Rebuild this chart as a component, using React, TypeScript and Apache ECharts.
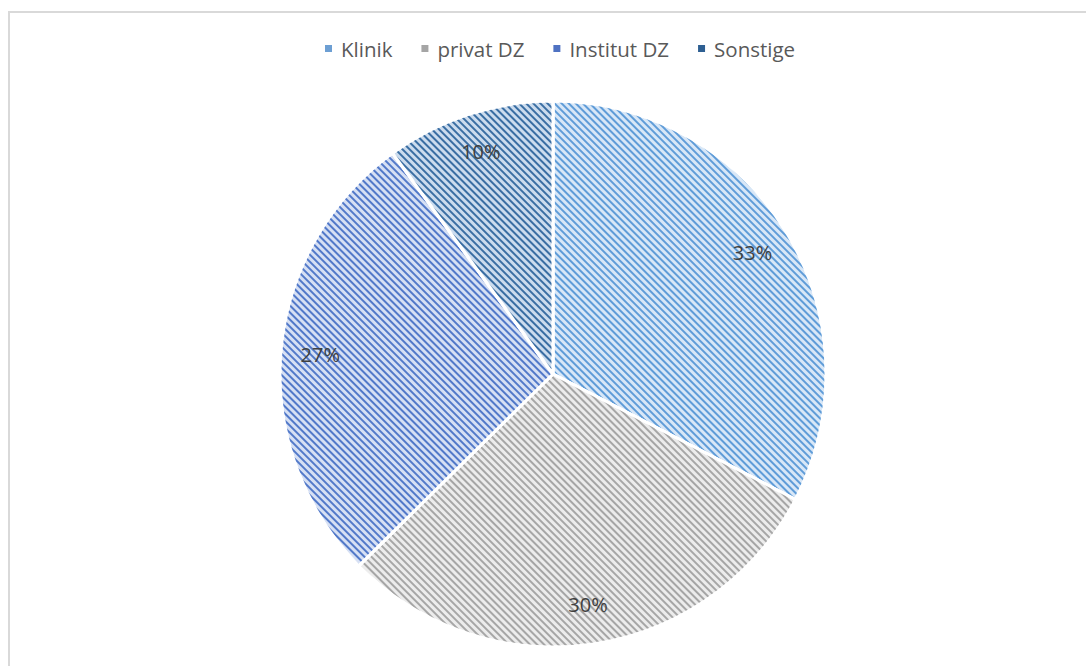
import React, { useEffect, useRef } from "react";
import * as echarts from "echarts";

const categories = ["Klinik", "privat DZ", "Institut DZ", "Sonstige"];
const values = [32.6, 30.0, 27.4, 10.0];
const baseColors = ["#d8e7f7", "#ececec", "#d6e0f4", "#ccdcee"];
const stripeColors = ["#5f9cd8", "#a6a6a6", "#5279c9", "#3a6ea3"];
const legendColors = ["#6d9fd3", "#a5a5a5", "#4f72c2", "#2e5f92"];

export default function App() {
  const ref = useRef<HTMLDivElement>(null);
  useEffect(() => {
    if (!ref.current) return;
    const chart = echarts.init(ref.current, undefined, { renderer: "svg" });
    const data = categories.map((name, i) => ({
      name,
      value: values[i],
      itemStyle: {
        color: baseColors[i],
        decal: {
          symbol: "rect",
          symbolSize: 1,
          color: stripeColors[i],
          dashArrayX: [1, 0],
          dashArrayY: [2, 3],
          rotation: Math.PI / 4,
        },
      },
    }));
    const total = values.reduce((a, b) => a + b, 0);
    chart.setOption({
      animation: false,
      backgroundColor: "#ffffff",
      graphic: [
        {
          type: "rect",
          shape: { x: 9, y: 12, width: 1200, height: 800 },
          style: { fill: "none", stroke: "#d9d9d9", lineWidth: 2 },
          silent: true,
        },
      ],
      legend: {
        top: 33,
        left: 318,
        itemWidth: 9,
        itemHeight: 9,
        itemGap: 27,
        icon: "rect",
        textStyle: {
          fontFamily: "Open Sans",
          fontSize: 20.5,
          color: "#595959",
          padding: [0, 0, 0, 3],
        },
        data: categories.map((name, i) => ({
          name,
          itemStyle: { color: legendColors[i], decal: "none" },
        })),
      },
      series: [
        {
          type: "pie",
          center: [553, 374],
          radius: [0, 273],
          startAngle: 90,
          clockwise: true,
          label: { show: false },
          labelLine: { show: false },
          itemStyle: { borderColor: "#ffffff", borderWidth: 3 },
          emphasis: { disabled: true },
          data,
        },
        {
          type: "pie",
          center: [553, 374],
          radius: [188, 273],
          startAngle: 90,
          clockwise: true,
          silent: true,
          itemStyle: { color: "rgba(0,0,0,0)" },
          label: {
            show: true,
            position: "inside",
            fontFamily: "Open Sans",
            fontSize: 20,
            color: "#404040",
            formatter: (p: any) => Math.round((p.value / total) * 100) + "%",
          },
          labelLine: { show: false },
          emphasis: { disabled: true },
          data: categories.map((name, i) => ({ name, value: values[i] })),
        },
      ],
    });
    return () => chart.dispose();
  }, []);
  return (
    <div
      ref={ref}
      style={{ position: "absolute", left: 0, top: 0, width: 1086, height: 666 }}
    />
  );
}
